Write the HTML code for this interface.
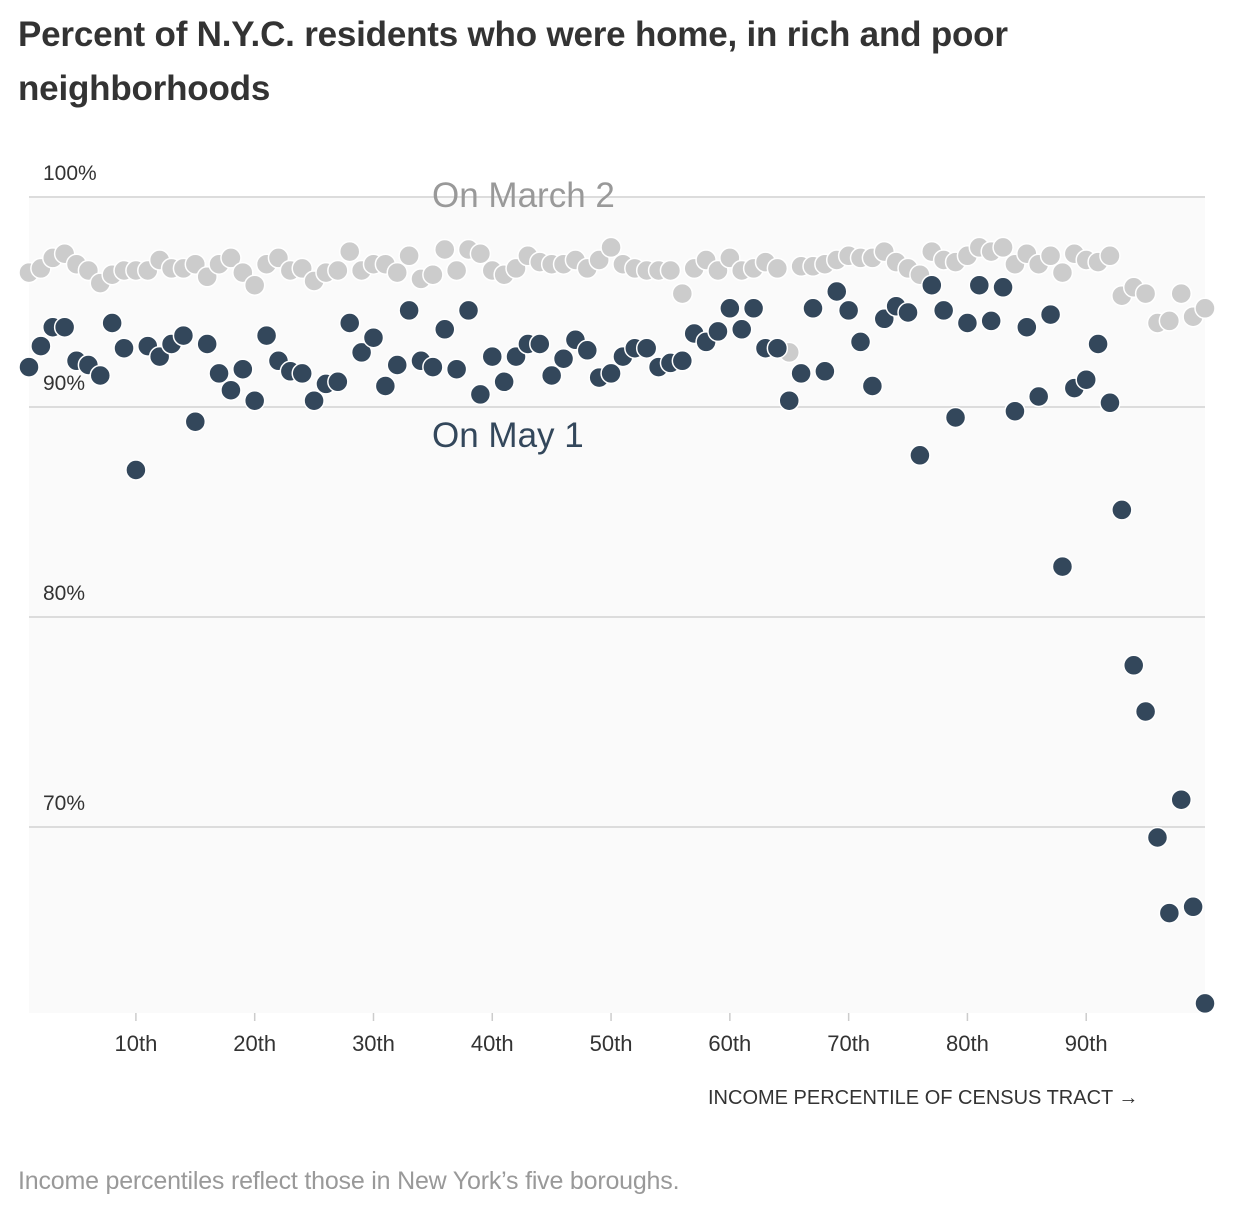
<!DOCTYPE html>
<html><head><meta charset="utf-8"><style>
body{margin:0;background:#fff;width:1250px;height:1214px;overflow:hidden;font-family:"Liberation Sans",sans-serif;}
#title{position:absolute;left:18px;top:8px;width:1040px;font-weight:bold;font-size:35px;line-height:54px;color:#333;letter-spacing:-0.2px;}
#note{position:absolute;left:18px;top:1167px;font-size:25px;color:#999;letter-spacing:-0.2px;}
svg{position:absolute;left:0;top:0;}
</style></head><body>
<div id="title">Percent of N.Y.C. residents who were home, in rich and poor neighborhoods</div>
<svg id="chart" width="1250" height="1214"></svg>
<div id="note">Income percentiles reflect those in New York’s five boroughs.</div>
<script>
const march = [96.4,96.6,97.1,97.3,96.8,96.5,95.9,96.3,96.5,96.5,96.5,97.0,96.6,96.6,96.8,96.2,96.8,97.1,96.4,95.8,96.8,97.1,96.5,96.6,96.0,96.4,96.5,97.4,96.5,96.8,96.8,96.4,97.2,96.1,96.3,97.5,96.5,97.5,97.3,96.5,96.3,96.6,97.2,96.9,96.8,96.8,97.0,96.6,97.0,97.6,96.8,96.6,96.5,96.5,96.5,95.4,96.6,97.0,96.5,97.1,96.5,96.6,96.9,96.6,92.6,96.7,96.7,96.8,97.0,97.2,97.1,97.1,97.4,96.9,96.6,96.3,97.4,97.0,96.9,97.2,97.6,97.4,97.6,96.8,97.3,96.8,97.2,96.4,97.3,97.0,96.9,97.2,95.3,95.7,95.4,94.0,94.1,95.4,94.3,94.7];
const may = [91.9,92.9,93.8,93.8,92.2,92.0,91.5,94.0,92.8,87.0,92.9,92.4,93.0,93.4,89.3,93.0,91.6,90.8,91.8,90.3,93.4,92.2,91.7,91.6,90.3,91.1,91.2,94.0,92.6,93.3,91.0,92.0,94.6,92.2,91.9,93.7,91.8,94.6,90.6,92.4,91.2,92.4,93.0,93.0,91.5,92.3,93.2,92.7,91.4,91.6,92.4,92.8,92.8,91.9,92.1,92.2,93.5,93.1,93.6,94.7,93.7,94.7,92.8,92.8,90.3,91.6,94.7,91.7,95.5,94.6,93.1,91.0,94.2,94.8,94.5,87.7,95.8,94.6,89.5,94.0,95.8,94.1,95.7,89.8,93.8,90.5,94.4,82.4,90.9,91.3,93.0,90.2,85.1,77.7,75.5,69.5,65.9,71.3,66.2,61.6];
const yTicks = [100,90,80,70];
const yTickLabels = ["100%","90%","80%","70%"];
const xTicks = [10,20,30,40,50,60,70,80,90];
const xTickLabels = ["10th","20th","30th","40th","50th","60th","70th","80th","90th"];

const svg = document.getElementById('chart');
const NS = 'http://www.w3.org/2000/svg';
const X0=29, X1=1205, Y100=197, PXPER=21;
function xs(p){return X0+(p-1)*(X1-X0)/99;}
function ys(v){return Y100+(100-v)*PXPER;}
function mk(tag, attrs){const e=document.createElementNS(NS,tag);for(const k in attrs)e.setAttribute(k,attrs[k]);svg.appendChild(e);return e;}

const bg=mk('rect',{x:X0,y:Y100,width:X1-X0,height:1013-Y100,fill:'#fafafa'});



yTicks.forEach((t,i)=>{
  const l=mk('line',{x1:X0,x2:X1,y1:ys(t),y2:ys(t),stroke:'#dcdcdc','stroke-width':2});
  
  
});
xTicks.forEach((t,i)=>{
  const tk=mk('line',{x1:xs(t),x2:xs(t),y1:1013,y2:1021,stroke:'#ccc','stroke-width':1.5});
  
  
  const tx=mk('text',{x:xs(t),y:1051,'text-anchor':'middle','font-size':22,fill:'#333'});
  tx.textContent=xTickLabels[i];
  
  
});

march.forEach((v,i)=>{
  const c=mk('circle',{cx:xs(i+1),cy:ys(v),r:10,fill:'#cccccc',stroke:'#fff','stroke-width':1.5});
  
  
});
may.forEach((v,i)=>{
  const c=mk('circle',{cx:xs(i+1),cy:ys(v),r:10,fill:'#33475b',stroke:'#fff','stroke-width':1.5});
  
  
});

yTicks.forEach((t,i)=>{
  const tx=mk('text',{x:43,y:ys(t)-17,'font-size':21,fill:'#333'});
  tx.textContent=yTickLabels[i];
  
  
});

const l1=mk('text',{x:432,y:207,'font-size':35,fill:'#999'});
l1.textContent='On March 2';


const l2=mk('text',{x:432,y:447,'font-size':35,fill:'#33475b'});
l2.textContent='On May 1';


const xt=mk('text',{x:708,y:1104,'font-size':20,fill:'#333'});
xt.textContent='INCOME PERCENTILE OF CENSUS TRACT →';


</script>
</body></html>
